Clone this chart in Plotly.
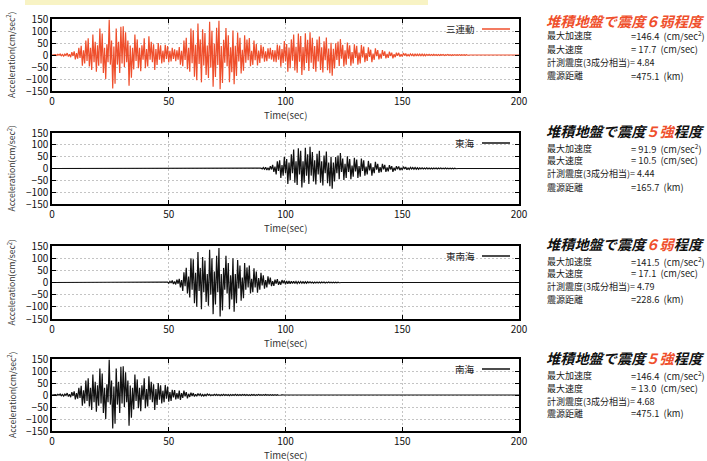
import plotly.graph_objects as go

# ---------------- data ----------------
DT = 0.5
T_END = 200.0

SANREN_START = 0.0
SANREN = [
    0, 1, -1, 2, -2, 3, -1, 4, -3, 2,
    -5, 4, -2, 8, -6, 3, -9, 12, -4, 15,
    -18, 8, -15, 30, -12, 38, -45, 20, -35, 60,
    -25, 70, -48, 30, -62, 85, -30, 55, -70, 40,
    -45, 110, -35, 90, -75, 30, -100, 45, -30, 146.4,
    -40, 60, -140, 35, -120, 110, -40, 55, -75, 118,
    -35, 120, -50, 95, -30, 60, -128, 40, -95, 30,
    -60, 85, -25, 65, -55, 30, -68, 40, -20, 70,
    -55, 25, -48, 78, -20, 55, -30, 45, -62, 25,
    -42, 50, -20, 40, -35, 18, -30, 43, -16, 37,
    -31, 17, -27, 30, -16, 24, -26, 20, -20, 33,
    -40, 18, -47, 60, -21, 72, -59, 30, -70, 110,
    -34, 103, -91, 43, -105, 131, -37, 65, -114, 107,
    -44, 92, -83, 39, -96, 138, -53, 101, -132, 48,
    -92, 113, -42, 143, -143, 37, -117, 63, -32, 112,
    -47, 82, -113, 32, -72, 102, -122, 38, -87, 94,
    -27, 72, -77, 22, -66, 82, -32, 64, -22, 71,
    -47, 17, -41, 60, -22, 46, -44, 19, -33, 43,
    -14, 34, -28, 15, -26, 28, -15, 30, -19, 21,
    -28, 20, -30, 44, -20, 39, -49, 25, -33, 58,
    -27, 46, -70, 31, -55, 65, -24, 85, -64, 34,
    -74, 89, -28, 79, -83, 33, -63, 91, -33, 63,
    -67, 95, -32, 72, -58, 37, -70, 64, -27, 77,
    -62, 32, -73, 57, -22, 73, -63, 27, -76, 51,
    -86, 26, -56, 49, -21, 56, -46, 66, -15, 42,
    -48, 20, -40, 52, -15, 40, -45, 12, -35, 45,
    -12, 38, -40, 10, -35, 42, -10, 35, -30, 8,
    -25, 32, -8, 22, -30, 6, -20, 28, -5, 20,
    -18, 6, -15, 20, -4, 15, -14, 5, -12, 14,
    -4, 10, -14, 3, -9, 10, -3, 9, -7, 3,
    -6, 8, -2, 6, -5, 2, -4, 5, -2, 4,
    -5, 5, -4, 5, -4, 4, -3, 4, -3, 3,
    -3, 3, -2, 3, -2, 2, -2, 3, -2, 2, -2, 2, -2, 2, -1, 2, -2, 1, -1, 2,
    -1, 1, -2, 1, -1, 1, -1, 1, -1, 1, -1, 1, -1, 1, -1, 1, -1, 1, 0, 0,
]

TOKAI_START = 88.0
TOKAI = [
    0, 1, -1, 2,
    -2, 4, -3, 5, -6, 3, -7, 10, -4, 15,
    -14, 8, -25, 30, -10, 35, -40, 15, -30, 50,
    -20, 40, -65, 25, -50, 60, -20, 80, -60, 30,
    -70, 85, -25, 75, -80, 30, -60, 88, -30, 60,
    -65, 91.9, -30, 70, -55, 35, -68, 62, -25, 75,
    -60, 30, -72, 55, -20, 72, -62, 25, -75, 50,
    -85, 25, -55, 48, -20, 55, -45, 65, -15, 42,
    -48, 20, -40, 52, -15, 40, -45, 12, -35, 45,
    -12, 38, -40, 10, -35, 42, -10, 35, -30, 8,
    -25, 32, -8, 22, -30, 6, -20, 28, -5, 20,
    -18, 6, -15, 20, -4, 15, -14, 5, -12, 14,
    -4, 10, -14, 3, -9, 10, -3, 9, -7, 3,
    -6, 8, -2, 6, -5, 2, -4, 5, -2, 4,
    -3, 4, -3, 3, -3, 3, -2, 3, -2, 2, -2, 3, -2, 2, -2, 2, -2, 2, -1, 2,
    -2, 2, -1, 2, -1, 1, -1, 2, -1, 1, -1, 1, -1, 1, -1, 1, -1, 1, 0, 0,
]

TONANKAI_START = 48.0
TONANKAI = [
    0, 1, -1, 2,
    -3, 5, -2, 8, -6, 4, -8, 12, -5, 15,
    -20, 10, -35, 42, -15, 60, -45, 25, -62, 100,
    -30, 95, -85, 40, -100, 125, -35, 60, -110, 105,
    -40, 90, -80, 35, -95, 135, -50, 100, -130, 45,
    -90, 110, -40, 141.5, -140, 35, -115, 60, -30, 110,
    -45, 80, -110, 30, -70, 100, -120, 35, -85, 92,
    -25, 70, -75, 20, -65, 80, -30, 62, -20, 70,
    -45, 15, -40, 58, -20, 45, -42, 18, -30, 40,
    -12, 30, -25, 10, -20, 25, -8, 20, -15, 6,
    -14, 12, -5, 14, -10, 4, -9, 10, -3, 8,
    -7, 6, -5, 6, -5, 5, -4, 5, -4, 4, -4, 4, -3, 4, -3, 3, -3, 3, -3, 3,
    -2, 3, -2, 2, -3, 2, -2, 2, -2, 2, -2, 2, -1, 2, -2, 1, -1, 2, -1, 1,
    -1, 1, -1, 1, -1, 1, -1, 1, 0, 0,
]

NANKAI_START = 0.0
NANKAI = [
    0, 1, -1, 2, -2, 3, -1, 4, -3, 2,
    -5, 4, -2, 8, -6, 3, -9, 12, -4, 15,
    -18, 8, -15, 30, -12, 38, -45, 20, -35, 60,
    -25, 70, -48, 30, -62, 85, -30, 55, -70, 40,
    -45, 110, -35, 90, -75, 30, -100, 45, -30, 146.4,
    -40, 60, -140, 35, -120, 110, -40, 55, -75, 118,
    -35, 120, -50, 95, -30, 60, -128, 40, -95, 30,
    -60, 85, -25, 65, -55, 30, -68, 40, -20, 70,
    -55, 25, -48, 78, -20, 55, -30, 45, -62, 25,
    -42, 50, -20, 40, -35, 18, -30, 42, -15, 35,
    -28, 12, -25, 22, -10, 20, -18, 8, -15, 18,
    -20, 8, -12, 18, -6, 12, -14, 5, -8, 10,
    -4, 8, -6, 3, -5, 6, -2, 5, -4, 2,
    -4, 2, -3, 4, -1, 3, -3, 1, -2, 3,
    -2, 3, -2, 2, -3, 2, -2, 3, -2, 2, -2, 2, -3, 2, -2, 2, -2, 3, -2, 2,
    -2, 2, -2, 2, -1, 2, -2, 2, -2, 1, -2, 2, -1, 2, -2, 1, -1, 2, -1, 1,
    -1, 1, -1, 2, -1, 1, -1, 1, -1, 1, -1, 1, -1, 1, -1, 1, 0, 1, -1, 0,
]

SERIES_NAMES = ["三連動", "東海", "東南海", "南海"]
SERIES_STARTS = [SANREN_START, TOKAI_START, TONANKAI_START, NANKAI_START]
SERIES_VALUES = [SANREN, TOKAI, TONANKAI, NANKAI]

SHINDO = ["６弱", "５強", "６弱", "５強"]
PGA = ["146.4", " 91.9", "141.5", "146.4"]
PGV = [" 17.7", " 10.5", " 17.1", " 13.0"]
INTENSITY = ["4.84", "4.44", "4.79", "4.68"]
DISTANCE = ["475.1", "165.7", "228.6", "475.1"]

X_TICKS = [0, 50, 100, 150, 200]
Y_TICKS = [-150, -100, -50, 0, 50, 100, 150]

# ---------------- styling / layout ----------------
W, H = 707, 461
RED = "#ef4f2c"
BLACK = "#111111"
COLORS = [RED, BLACK, BLACK, BLACK]
FONT = "Noto Sans CJK JP"

PANELS = [(19, 91), (133, 204), (246, 319), (359, 431)]   # top, bottom (px)
X0, X1 = 52, 519
TITLE_Y = [21, 131, 244, 358]
ROW_Y = [[36, 49, 62, 76], [148, 160, 173, 187], [261, 273, 286, 299], [375, 388, 401, 413]]


def px(x):
    return x / W


def py(y):
    return 1 - y / H


fig = go.Figure()
annotations = []
shapes = []

# top yellow band (decoration of the original page)
shapes.append(dict(type="rect", xref="paper", yref="paper", x0=px(25), x1=px(428),
                   y0=py(5), y1=1.0, fillcolor="#f8f3c4", line=dict(width=0), layer="below"))

for i in range(4):
    n = i + 1
    xa = "x" if n == 1 else f"x{n}"
    ya = "y" if n == 1 else f"y{n}"
    start = SERIES_STARTS[i]
    vals = SERIES_VALUES[i]
    xs = [0.0] + [start + k * DT for k in range(len(vals))] + [T_END]
    ys = [0.0] + list(vals) + [0.0]
    fig.add_trace(go.Scatter(x=xs, y=ys, mode="lines", name=SERIES_NAMES[i],
                             line=dict(color=COLORS[i], width=1.2),
                             xaxis=xa, yaxis=ya, showlegend=False, hoverinfo="skip"))

    top, bot = PANELS[i]
    axis_common = dict(showline=True, linecolor="black", linewidth=1.5, mirror="allticks",
                       ticks="inside", ticklen=4, tickwidth=1, tickcolor="black",
                       showgrid=True, gridcolor="#c4c4c4", griddash="2px,2px", gridwidth=1,
                       zeroline=False, automargin=False,
                       tickfont=dict(family=FONT, size=10, color="#111"))
    fig.layout[f"xaxis{'' if n == 1 else n}"] = dict(
        domain=[px(X0), px(X1)], range=[0, 200], tickvals=X_TICKS, anchor=ya, **axis_common)
    fig.layout[f"yaxis{'' if n == 1 else n}"] = dict(
        domain=[py(bot), py(top)], range=[-150, 150], tickvals=Y_TICKS, anchor=xa, **axis_common)

    # axis titles
    annotations.append(dict(text="Acceleration(cm/sec<sup>2</sup>)", x=px(11), y=py((top + bot) / 2),
                            xref="paper", yref="paper", textangle=-90, showarrow=False,
                            xanchor="center", yanchor="middle",
                            font=dict(family=FONT, size=8.5, color="#333")))
    annotations.append(dict(text="Time(sec)", x=px((X0 + X1) / 2), y=py(bot + 24),
                            xref="paper", yref="paper", showarrow=False,
                            xanchor="center", yanchor="middle",
                            font=dict(family=FONT, size=9.5, color="#333")))
    # legend (text then line sample)
    annotations.append(dict(text=SERIES_NAMES[i], x=px(477), y=py(top + 10),
                            xref="paper", yref="paper", showarrow=False,
                            xanchor="right", yanchor="middle",
                            font=dict(family=FONT, size=9.5, color="#222")))
    shapes.append(dict(type="line", xref="paper", yref="paper", x0=px(482), x1=px(510),
                       y0=py(top + 10), y1=py(top + 10), line=dict(color=COLORS[i], width=1.5)))

    # right-hand information block
    if i == 0:
        title = f"<b><i><span style='color:{RED}'>堆積地盤で震度{SHINDO[i]}程度</span></i></b>"
    else:
        title = f"<b><i>堆積地盤で震度<span style='color:{RED}'>{SHINDO[i]}</span>程度</i></b>"
    annotations.append(dict(text=title, x=px(544), y=py(TITLE_Y[i]), xref="paper", yref="paper",
                            showarrow=False, xanchor="left", yanchor="middle",
                            font=dict(family=FONT, size=14.2, color="#111")))
    rows = [("最大加速度", f"={PGA[i]}  (cm/sec<sup>2</sup>)"),
            ("最大速度", f"={PGV[i]}  (cm/sec)"),
            (f"計測震度(3成分相当)= {INTENSITY[i]}", None),
            ("震源距離", f"={DISTANCE[i]}  (km)")]
    for r, (lab, val) in enumerate(rows):
        annotations.append(dict(text=lab, x=px(545), y=py(ROW_Y[i][r]), xref="paper", yref="paper",
                                showarrow=False, xanchor="left", yanchor="middle",
                                font=dict(family=FONT, size=9, color="#1a1a1a")))
        if val is not None:
            annotations.append(dict(text=val, x=px(629), y=py(ROW_Y[i][r]), xref="paper", yref="paper",
                                    showarrow=False, xanchor="left", yanchor="middle",
                                    font=dict(family=FONT, size=9.3, color="#1a1a1a")))

fig.update_layout(width=W, height=H, autosize=False, margin=dict(l=0, r=0, t=0, b=0),
                  paper_bgcolor="white", plot_bgcolor="white", showlegend=False,
                  annotations=annotations, shapes=shapes)

fig.write_html("out.html", config={"displayModeBar": False},
               post_script="document.body.style.margin='0';")
